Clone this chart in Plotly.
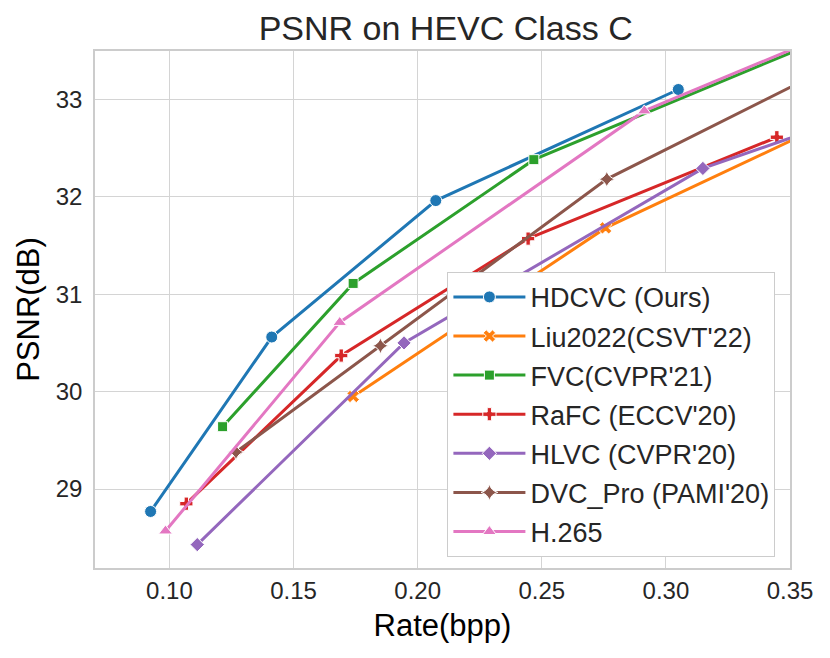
import plotly.graph_objects as go

# Rate-distortion points (HEVC Class C).
methods = ["HDCVC (Ours)", "Liu2022(CSVT'22)", "FVC(CVPR'21)", "RaFC (ECCV'20)",
           "HLVC (CVPR'20)", "DVC_Pro (PAMI'20)", "H.265"]

hdcvc_bpp = [0.0924, 0.1412, 0.2073, 0.3050]
hdcvc_psnr = [28.77, 30.56, 31.96, 33.10]

liu_bpp = [0.1740, 0.2757, 0.3600]
liu_psnr = [29.95, 31.68, 32.69]

fvc_bpp = [0.1214, 0.1740, 0.2468, 0.3600]
fvc_psnr = [29.64, 31.11, 32.38, 33.58]

rafc_bpp = [0.1068, 0.1692, 0.2445, 0.3447]
rafc_psnr = [28.85, 30.37, 31.57, 32.61]

hlvc_bpp = [0.1112, 0.1945, 0.3149, 0.3600]
hlvc_psnr = [28.43, 30.50, 32.29, 32.69]

dvcpro_bpp = [0.1268, 0.1850, 0.2762, 0.3600]
dvcpro_psnr = [29.38, 30.47, 32.18, 33.25]

h265_bpp = [0.0984, 0.1686, 0.2913, 0.3600]
h265_psnr = [28.57, 30.71, 32.88, 33.61]

xs = [hdcvc_bpp, liu_bpp, fvc_bpp, rafc_bpp, hlvc_bpp, dvcpro_bpp, h265_bpp]
ys = [hdcvc_psnr, liu_psnr, fvc_psnr, rafc_psnr, hlvc_psnr, dvcpro_psnr, h265_psnr]

colors = ["#1f77b4", "#ff7f0e", "#2ca02c", "#d62728", "#9467bd", "#8c564b", "#e377c2"]
symbols = ["circle", "x", "square", "cross", "diamond", "star-diamond", "triangle-up"]
sizes = [12, 11, 10, 11, 11, 12, 12]

text_color = "#262626"
grid_color = "#d4d4d4"

fig = go.Figure()
for i, name in enumerate(methods):
    fig.add_trace(go.Scatter(
        x=xs[i], y=ys[i], name=name, mode="lines+markers",
        legendgroup=f"g{i}",
        line=dict(color=colors[i], width=3),
        marker=dict(symbol=symbols[i], size=sizes[i], color=colors[i],
                    line=dict(color="white", width=1)),
    ))

# page body adds an 8px margin, so the figure is drawn 8px smaller
fig.update_layout(
    width=822, height=650,
    margin=dict(l=87, r=40, t=43, b=90),
    paper_bgcolor="white", plot_bgcolor="white",
    font=dict(family="Liberation Sans, Arial, sans-serif", color=text_color),
    title=dict(text="PSNR on HEVC Class C", x=0.5325, xanchor="center",
               y=0.969, yanchor="middle", font=dict(size=34, color=text_color)),
    legend=dict(x=0.979, y=0.5728, xanchor="right", yanchor="top",
                bgcolor="white", bordercolor="#cccccc", borderwidth=1,
                itemwidth=72, font=dict(size=27, color=text_color),
                tracegroupgap=1),
    showlegend=True,
)

fig.update_xaxes(
    range=[0.07, 0.35], tickvals=[0.10, 0.15, 0.20, 0.25, 0.30, 0.35],
    ticktext=["0.10", "0.15", "0.20", "0.25", "0.30", "0.35"],
    showgrid=True, gridcolor=grid_color, gridwidth=1.2,
    showline=True, linecolor="#cccccc", linewidth=1.5, mirror=True,
    zeroline=False, ticks="", tickfont=dict(size=24, color=text_color),
    automargin=False,
    title=dict(text="Rate(bpp)", font=dict(size=31, color="black"), standoff=12),
)
fig.update_yaxes(
    range=[28.19, 33.495], tickvals=[29, 30, 31, 32, 33],
    showgrid=True, gridcolor=grid_color, gridwidth=1.2,
    showline=True, linecolor="#cccccc", linewidth=1.5, mirror=True,
    zeroline=False, ticks="", ticklabelstandoff=6,
    tickfont=dict(size=24, color=text_color), automargin=False,
    title=dict(text="PSNR(dB)", font=dict(size=31, color="black"), standoff=7),
)

fig.write_html("out.html")
